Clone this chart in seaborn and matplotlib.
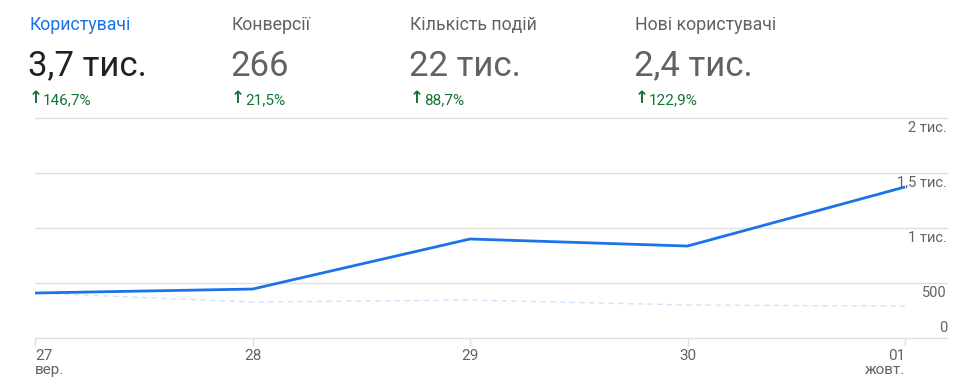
import matplotlib
matplotlib.use("Agg")
import matplotlib.pyplot as plt
import matplotlib.transforms as mtransforms
import pandas as pd
import seaborn as sns

# metric cards
card_titles = ["Користувачі", "Конверсії", "Кількість подій", "Нові користувачі"]
card_values = ["3,7 тис.", "266", "22 тис.", "2,4 тис."]
card_changes = ["146,7%", "21,5%", "88,7%", "122,9%"]

# chart data
dates = ["27\nвер.", "28", "29", "30", "01\nжовт."]
users_current = [409, 445, 900, 836, 1373]
users_previous = [409, 327, 345, 300, 290]
y_ticks = [0, 500, 1000, 1500, 2000]
y_tick_labels = ["0", "500", "1 тис.", "1,5 тис.", "2 тис."]

sns.set_theme(style="white")
plt.rcParams["font.family"] = ["Roboto", "DejaVu Sans"]

W, H = 972, 387
fig = plt.figure(figsize=(W / 100, H / 100), dpi=100)

# header cards
card_x = [29, 231, 410, 635]
for i, (t, v, c) in enumerate(zip(card_titles, card_values, card_changes)):
    x = card_x[i] / W
    fig.text(x, 1 - 25 / H, t, fontsize=12.8, va="center", ha="left",
             color="#1a73e8" if i == 0 else "#5f6368")
    fig.text(x - 0.001, 1 - 66 / H, v, fontsize=25, va="center", ha="left",
             color="#202124" if i == 0 else "#5f6368")
    fig.text(x, 1 - 98 / H, "\u2191", fontsize=12, fontweight="bold",
             va="center", ha="left", color="#137333",
             family=["DejaVu Sans"])
    fig.text(x + 14 / W, 1 - 100 / H, c, fontsize=11, va="center", ha="left",
             color="#137333")

# chart axes
left, right, bottom_px, top_px = 35, 905, 338, 118
ax = fig.add_axes([left / W, 1 - bottom_px / H, (right - left) / W, (bottom_px - top_px) / H])

df = pd.DataFrame({"pos": range(len(dates)), "current": users_current,
                   "previous": users_previous})
sns.lineplot(data=df, x="pos", y="previous", ax=ax, color="#d2e3fc",
             linewidth=1.0, linestyle=(0, (4, 3)))
sns.lineplot(data=df, x="pos", y="current", ax=ax, color="#1a73e8",
             linewidth=2.0)

ax.set_xlim(0, len(dates) - 1)
ax.set_ylim(0, 2000)
for s in ax.spines.values():
    s.set_visible(False)
ax.set_xlabel("")
ax.set_ylabel("")
ax.set_yticks([])

ext = (947 - left) / (right - left)
for yv in y_ticks:
    ax.axhline(yv, xmin=0, xmax=ext, color="#e0e0e0", linewidth=1.0,
               clip_on=False, zorder=0)

trans = mtransforms.blended_transform_factory(ax.transAxes, ax.transData)
for yv, lab in zip(y_ticks, y_tick_labels):
    if yv == 0:
        ax.annotate(lab, (ext, yv), xycoords=trans, xytext=(0, 2),
                    textcoords="offset points", ha="right", va="bottom",
                    fontsize=10.5, color="#5f6368")
    else:
        ax.annotate(lab, (ext, yv), xycoords=trans, xytext=(0, -2),
                    textcoords="offset points", ha="right", va="top",
                    fontsize=10.5, color="#5f6368")

ax.set_xticks(range(len(dates)))
ax.set_xticklabels(dates, fontsize=11, color="#5f6368", linespacing=0.95)
ax.tick_params(axis="x", length=6, width=1, color="#e0e0e0", pad=2, bottom=True)
labels = ax.get_xticklabels()
labels[0].set_ha("left")
labels[0].set_multialignment("left")
labels[-1].set_ha("right")
labels[-1].set_multialignment("right")

fig.savefig("out.png", dpi=100)
